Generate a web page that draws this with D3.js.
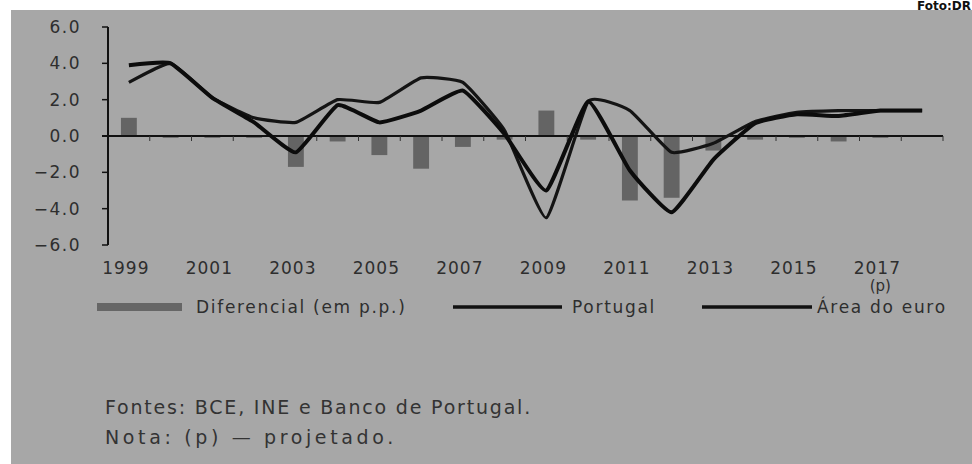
<!DOCTYPE html>
<html>
<head>
<meta charset="utf-8">
<script src="https://cdn.jsdelivr.net/npm/d3@7"></script>
<style>
  body { margin: 0; background: #fff; }
  svg text { font-family: "DejaVu Sans", Verdana, sans-serif; }
</style>
</head>
<body>
<svg id="chart" width="972" height="464"></svg>
<script>
// Data
const years = ["1999","2000","2001","2002","2003","2004","2005","2006","2007","2008",
               "2009","2010","2011","2012","2013","2014","2015","2016","2017","2018"];
const diferencial = [1.0, -0.1, -0.1, -0.1, -1.7, -0.3, -1.05, -1.8, -0.6, -0.2,
                     1.4, -0.2, -3.55, -3.4, -0.8, -0.2, -0.1, -0.3, -0.1, 0.0];
const portugal = [3.9, 4.0, 2.1, 0.75, -0.9, 1.7, 0.75, 1.4, 2.5, 0.1,
                  -3.0, 1.9, -1.9, -4.2, -1.3, 0.7, 1.2, 1.1, 1.4, 1.4];
const areaEuro = [2.95, 4.0, 2.1, 1.0, 0.75, 2.0, 1.85, 3.2, 2.95, 0.3,
                  -4.5, 1.9, 1.4, -0.9, -0.4, 0.8, 1.3, 1.4, 1.4, 1.4];
const yTicks = [6, 4, 2, 0, -2, -4, -6];
const labelYears = ["1999","2001","2003","2005","2007","2009","2011","2013","2015","2017"];

const svg = d3.select("#chart");

// paper + gray print area
svg.append("rect").attr("width", 972).attr("height", 464).attr("fill", "#fff");
svg.append("rect").attr("x", 11).attr("y", 10).attr("width", 961).attr("height", 454).attr("fill", "#a7a7a7");

svg.append("text")
  .attr("x", 971).attr("y", 10)
  .attr("text-anchor", "end")
  .attr("font-size", "12px").attr("font-weight", "bold")
  .attr("fill", "#111")
  .text("Foto:DR");

const x = d3.scaleBand().domain(years).range([108, 943]);
const y = d3.scaleLinear().domain([-6, 6]).range([245, 27]);
const cx = d => x(d) + x.bandwidth() / 2;

// bars
svg.selectAll("rect.bar")
  .data(years.map((yr, i) => ({ yr, v: diferencial[i] })))
  .join("rect")
  .attr("class", "bar")
  .attr("x", d => cx(d.yr) - x.bandwidth() * 0.19)
  .attr("width", x.bandwidth() * 0.38)
  .attr("y", d => y(Math.max(0, d.v)))
  .attr("height", d => Math.abs(y(d.v) - y(0)))
  .attr("fill", "#646464");

// y axis
svg.append("line")
  .attr("x1", 108).attr("x2", 108)
  .attr("y1", y(6)).attr("y2", y(-6))
  .attr("stroke", "#111").attr("stroke-width", 2);

svg.selectAll("line.ytick")
  .data(yTicks)
  .join("line")
  .attr("class", "ytick")
  .attr("x1", 102).attr("x2", 108)
  .attr("y1", d => y(d)).attr("y2", d => y(d))
  .attr("stroke", "#111").attr("stroke-width", 1.5);

svg.selectAll("text.ylab")
  .data(yTicks)
  .join("text")
  .attr("class", "ylab")
  .attr("x", 81).attr("y", d => y(d))
  .attr("dy", "0.36em")
  .attr("text-anchor", "end")
  .attr("font-size", "17px")
  .attr("letter-spacing", "1.5px")
  .attr("fill", "#2e2e2e")
  .text(d => d3.format(".1f")(d));

// x axis at zero
svg.append("line")
  .attr("x1", 102).attr("x2", 943)
  .attr("y1", y(0)).attr("y2", y(0))
  .attr("stroke", "#111").attr("stroke-width", 2);

svg.selectAll("line.xtick")
  .data(years.slice(1).concat(["end"]))
  .join("line")
  .attr("class", "xtick")
  .attr("x1", d => d === "end" ? 943 : x(d))
  .attr("x2", d => d === "end" ? 943 : x(d))
  .attr("y1", y(0)).attr("y2", y(0) + 5)
  .attr("stroke", "#333").attr("stroke-width", 1);

svg.selectAll("text.xlab")
  .data(labelYears)
  .join("text")
  .attr("class", "xlab")
  .attr("x", d => cx(d) - 3).attr("y", 274)
  .attr("text-anchor", "middle")
  .attr("font-size", "17px")
  .attr("letter-spacing", "1px")
  .attr("fill", "#2e2e2e")
  .text(d => d);

svg.append("text")
  .attr("x", cx("2017")).attr("y", 291)
  .attr("text-anchor", "middle")
  .attr("font-size", "15px")
  .attr("fill", "#2e2e2e")
  .text("(p)");

// lines
const line = d3.line()
  .x((d, i) => cx(years[i]))
  .y(d => y(d))
  .curve(d3.curveCardinal.tension(0.6));

svg.append("path")
  .attr("d", line(areaEuro))
  .attr("fill", "none")
  .attr("stroke", "#141414")
  .attr("stroke-width", 3.2)
  .attr("stroke-linejoin", "round");

svg.append("path")
  .attr("d", line(portugal))
  .attr("fill", "none")
  .attr("stroke", "#0c0c0c")
  .attr("stroke-width", 4)
  .attr("stroke-linejoin", "round");

// legend
const legY = 307;
svg.append("rect")
  .attr("x", 97).attr("y", legY - 4).attr("width", 85).attr("height", 8)
  .attr("fill", "#666");
svg.append("text")
  .attr("x", 196).attr("y", legY).attr("dy", "0.36em")
  .attr("font-size", "17px").attr("letter-spacing", "1.7px")
  .attr("fill", "#2e2e2e")
  .text("Diferencial (em p.p.)");

svg.append("line")
  .attr("x1", 453).attr("x2", 562).attr("y1", legY).attr("y2", legY)
  .attr("stroke", "#111").attr("stroke-width", 3.5);
svg.append("text")
  .attr("x", 572).attr("y", legY).attr("dy", "0.36em")
  .attr("font-size", "17px").attr("letter-spacing", "1.7px")
  .attr("fill", "#2e2e2e")
  .text("Portugal");

svg.append("line")
  .attr("x1", 702).attr("x2", 812).attr("y1", legY).attr("y2", legY)
  .attr("stroke", "#111").attr("stroke-width", 3.5);
svg.append("text")
  .attr("x", 817).attr("y", legY).attr("dy", "0.36em")
  .attr("font-size", "17px").attr("letter-spacing", "1.7px")
  .attr("fill", "#2e2e2e")
  .text("Área do euro");

// notes
svg.append("text")
  .attr("x", 105).attr("y", 407).attr("dy", "0.36em")
  .attr("font-size", "19px").attr("letter-spacing", "1.8px")
  .attr("fill", "#333")
  .text("Fontes: BCE, INE e Banco de Portugal.");
svg.append("text")
  .attr("x", 105).attr("y", 437).attr("dy", "0.36em")
  .attr("font-size", "19px").attr("letter-spacing", "1.8px")
  .attr("textLength", 290).attr("lengthAdjust", "spacing")
  .attr("fill", "#333")
  .text("Nota: (p) — projetado.");
</script>
</body>
</html>
